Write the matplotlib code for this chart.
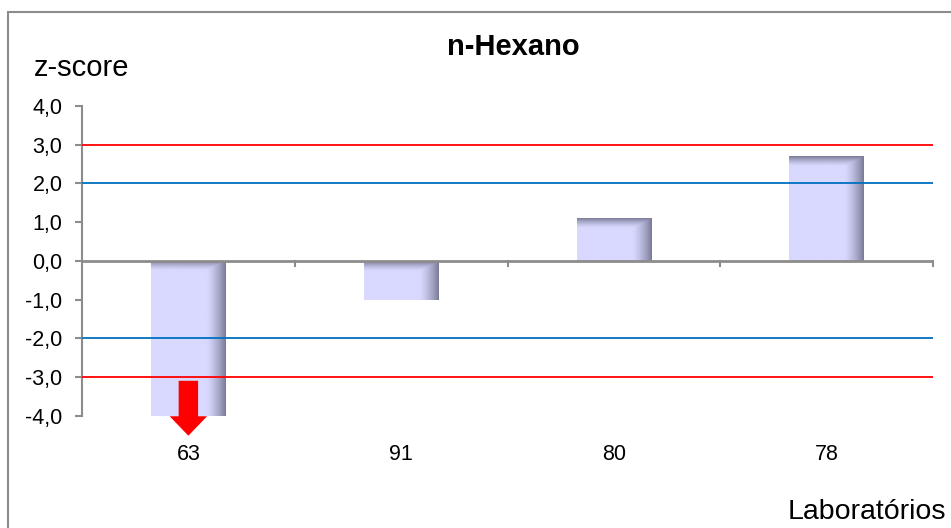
import numpy as np
import matplotlib
matplotlib.use('Agg')
import matplotlib.pyplot as plt
from matplotlib.patches import Rectangle

plt.rcParams['font.family'] = ['Liberation Sans', 'DejaVu Sans']

# data
labs = ['63', '91', '80', '78']
zscores = [-4.0, -1.0, 1.1, 2.7]
off_scale = [True, False, False, False]   # bars that run past the axis
warn = [-3.0, 3.0]
act = [-2.0, 2.0]
yticks = [-4, -3, -2, -1, 0, 1, 2, 3, 4]

fig = plt.figure(figsize=(9.51, 5.28), dpi=100)
# outer frame of the chart (runs off right and bottom)
fig.patches.append(Rectangle((8/951, -0.05), 1.1, 1 - 12/528 + 0.05,
                             transform=fig.transFigure, fill=False,
                             edgecolor='#8c8c8c', lw=1.5))

ax = fig.add_axes([82/951, 1 - 416/528, 851/951, 310/528])
ax.set_xlim(-0.5, len(labs) - 0.5)
ax.set_ylim(-4, 4)

x = np.arange(len(labs))
bars = ax.bar(x, zscores, width=0.35, color='#d9d9ff', edgecolor='none', zorder=2)

# shading: darker band on right side and top, like the excel bevel
light = np.array([0xd9, 0xd9, 0xff]) / 255
dark = np.array([0x7c, 0x7c, 0x9a]) / 255
nx, ny = 80, 160
for b in bars:
    x0, y0 = b.get_x(), b.get_y()
    w, h = b.get_width(), b.get_height()
    ylo, yhi = min(y0, y0 + h), max(y0, y0 + h)
    hpx = abs(h) * 38.75
    xx = np.linspace(0, 1, nx)
    yy = np.linspace(0, 1, ny)   # 0 = top
    fx = np.clip((xx - 0.74) / 0.26, 0, 1)
    fy = np.clip(1 - (yy * hpx) / 10.0, 0, 1)
    F = np.maximum(fx[None, :], fy[:, None]) ** 1.4
    img = light[None, None, :] * (1 - F[..., None]) + dark[None, None, :] * F[..., None]
    im = ax.imshow(img, extent=(x0, x0 + w, ylo, yhi), aspect='auto',
                   interpolation='bilinear', zorder=2, origin='upper')
    im.set_clip_path(b)

ax.set_xlim(-0.5, len(labs) - 0.5)
ax.set_ylim(-4, 4)

for v in warn:
    ax.axhline(v, color='#ff0000', lw=1.3, zorder=3)
for v in act:
    ax.axhline(v, color='#0070c0', lw=1.3, zorder=3)
ax.axhline(0, color='#8c8c8c', lw=2, zorder=4)

# tick marks between categories on the zero line
for xb in np.arange(-0.5, len(labs), 1.0)[1:]:
    ax.plot([xb, xb], [0, -0.13], color='#8c8c8c', lw=1.5, zorder=4, clip_on=False)

# arrows for off scale values
for xi, z, off in zip(x, zscores, off_scale):
    if off:
        ax.annotate('', xy=(xi, z - 0.58), xytext=(xi, -3.02),
                    arrowprops=dict(arrowstyle='simple,head_width=1.35,head_length=0.7,tail_width=0.7',
                                    color='#ff0000', lw=0, mutation_scale=20),
                    zorder=5, annotation_clip=False)

for s in ['top', 'right', 'bottom']:
    ax.spines[s].set_visible(False)
ax.spines['left'].set_color('#8c8c8c')
ax.spines['left'].set_linewidth(1.5)

ax.set_yticks(yticks)
ax.set_yticklabels([('%.1f' % t).replace('.', ',') for t in yticks], fontsize=15.5)
ax.tick_params(axis='y', length=5, width=1.5, color='#8c8c8c', pad=9)
ax.set_xticks(x)
ax.set_xticklabels(labs, fontsize=15.5)
ax.tick_params(axis='x', length=0, pad=20)

fig.text(513/951, 1 - 47/528, 'n-Hexano', fontsize=21, fontweight='bold',
         ha='center', va='center')
fig.text(34/951, 1 - 68/528, 'z-score', fontsize=21, ha='left', va='center')
fig.text(946/951, 1 - 512/528, 'Laboratórios', fontsize=20.5, ha='right', va='center')

fig.savefig('out.png', dpi=100)
